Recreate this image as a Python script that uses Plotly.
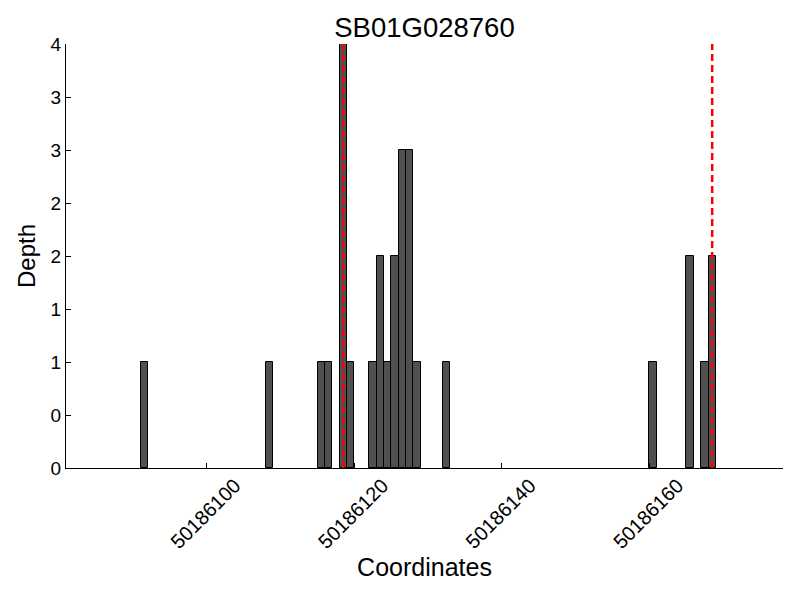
import plotly.graph_objects as go

# Data
positions = [50186091, 50186108, 50186115, 50186116, 50186118, 50186119,
             50186122, 50186123, 50186124, 50186125, 50186126, 50186127,
             50186128, 50186132, 50186160, 50186165, 50186167, 50186168]
depths = [1, 1, 1, 1, 4, 1,
          1, 2, 1, 2, 3, 3,
          1, 1, 1, 2, 1, 2]
marker_lines = [50186118.5, 50186168.5]
x_tick_vals = [50186100, 50186120, 50186140, 50186160]
x_tick_text = ["50186100", "50186120", "50186140", "50186160"]
y_tick_vals = [0, 0.5, 1, 1.5, 2, 2.5, 3, 3.5, 4]
y_tick_text = ["0", "0", "1", "1", "2", "2", "3", "3", "4"]
title = "SB01G028760"

FONT = "Liberation Sans, Arial, sans-serif"

fig = go.Figure()
fig.add_trace(go.Bar(
    x=positions, y=depths, width=1, offset=0,
    marker=dict(color="#505050", line=dict(color="black", width=1)),
    showlegend=False,
))

for xv in marker_lines:
    fig.add_shape(type="line", x0=xv, x1=xv, y0=0, y1=1, xref="x", yref="paper",
                  line=dict(color="red", width=2.5, dash="7px,4px"), layer="above")

# page body has an 8px margin; figure is sized so it fits in the 800x600 window
fig.update_layout(
    width=792, height=592,
    paper_bgcolor="white", plot_bgcolor="white",
    margin=dict(l=58, r=17, t=36, b=132, autoexpand=False),
    title=dict(text=title, x=0.5, xanchor="center", xref="paper",
               y=1 - 19.5 / 592, yanchor="middle", yref="container",
               font=dict(family=FONT, size=27.5, color="black")),
    font=dict(family=FONT, color="black"),
    bargap=0,
)
fig.update_xaxes(
    range=[50186080.9, 50186178.1], automargin=False,
    tickvals=x_tick_vals, ticktext=x_tick_text, tickangle=-45,
    ticklabelshift=28, ticklabelstandoff=-3,
    tickfont=dict(size=20, family=FONT, color="black"),
    showline=True, linecolor="black", linewidth=1, mirror=False,
    ticks="inside", ticklen=5, tickcolor="black", showgrid=False, zeroline=False,
    title=dict(text="Coordinates", font=dict(size=25, family=FONT, color="black"), standoff=6),
)
fig.update_yaxes(
    range=[0, 4], automargin=False,
    tickvals=y_tick_vals, ticktext=y_tick_text,
    tickfont=dict(size=19, family=FONT, color="black"),
    showline=True, linecolor="black", linewidth=1, mirror=False,
    ticks="inside", ticklen=5, tickcolor="black", showgrid=False, zeroline=False,
    title=dict(text="Depth", font=dict(size=24, family=FONT, color="black"), standoff=8),
)

fig.write_html("out.html")
